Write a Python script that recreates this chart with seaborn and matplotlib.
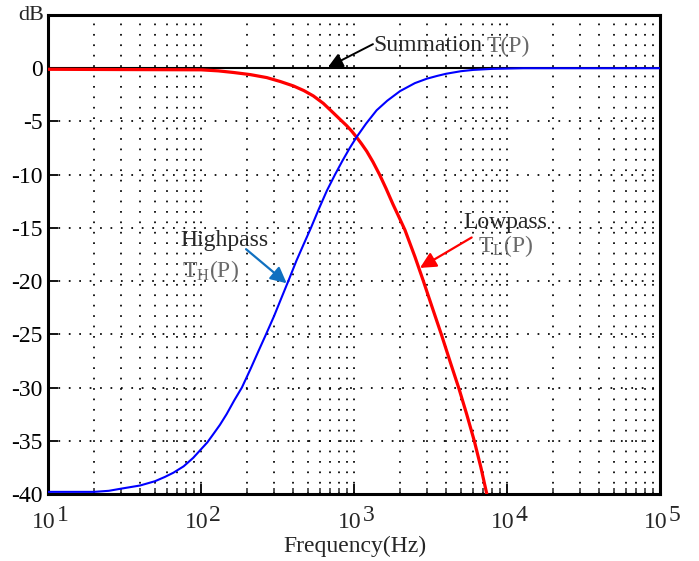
import numpy as np
import pandas as pd
import matplotlib
matplotlib.use("Agg")
import matplotlib.pyplot as plt
import matplotlib.transforms as mtransforms
from matplotlib.ticker import FixedLocator, NullFormatter
import seaborn as sns

# ---- data (frequency in Hz, magnitude in dB) ----
lowpass_freq = [10, 100, 130, 163, 210, 269, 330, 401, 470, 542, 630, 733, 810, 896,
                965, 1042, 1120, 1211, 1330, 1470, 1620, 1800, 1970, 2153, 2500,
                2826, 3250, 3741, 4300, 4853, 5450, 6109, 6750, 7430]
lowpass_db = [-0.1, -0.15, -0.25, -0.4, -0.6, -0.88, -1.25, -1.66, -2.1, -2.6, -3.3,
              -4.2, -4.8, -5.4, -5.9, -6.5, -7.1, -7.8, -8.8, -10.0, -11.3, -12.8,
              -14.0, -15.2, -17.7, -19.9, -22.5, -25.1, -27.8, -30.1, -32.5, -35.0,
              -37.5, -40.2]

highpass_freq = [10, 20, 25, 30, 40, 50, 58, 66, 77, 89, 100, 110, 120, 133, 147, 165,
                 185, 210, 237, 266, 300, 335, 372, 420, 470, 523, 590, 665, 751, 840,
                 942, 1042, 1200, 1406, 1650, 2000, 2500, 3000, 3500, 4000, 5000, 6000,
                 8000, 12800, 100000]
highpass_db = [-39.8, -39.8, -39.7, -39.5, -39.2, -38.8, -38.4, -38.0, -37.4, -36.6,
               -35.8, -35.15, -34.4, -33.5, -32.5, -31.2, -30.0, -28.3, -26.6, -25.0,
               -23.3, -21.6, -20.0, -18.1, -16.5, -15.0, -13.2, -11.5, -10.0, -8.7,
               -7.45, -6.45, -5.2, -3.95, -3.05, -2.15, -1.4, -0.98, -0.72, -0.52,
               -0.28, -0.16, -0.06, 0.0, 0.0]

sum_freq = [10, 100000]
sum_db = [0.0, 0.0]

y_ticks = [0, -5, -10, -15, -20, -25, -30, -35, -40]
y_tick_labels = ["0", "-5", "-10", "-15", "-20", "-25", "-30", "-35", "-40"]
decades = [10, 100, 1000, 10000, 100000]
decade_exponents = ["1", "2", "3", "4", "5"]

df_low = pd.DataFrame({"freq": lowpass_freq, "dB": lowpass_db})
df_high = pd.DataFrame({"freq": highpass_freq, "dB": highpass_db})
df_sum = pd.DataFrame({"freq": sum_freq, "dB": sum_db})

# ---- style ----
sns.set_style("ticks")
plt.rcParams["font.family"] = ["Liberation Serif", "DejaVu Serif"]
plt.rcParams["mathtext.fontset"] = "custom"
plt.rcParams["mathtext.rm"] = "Liberation Serif"
plt.rcParams["mathtext.it"] = "Liberation Serif:italic"
plt.rcParams["axes.unicode_minus"] = False

W, H = 699, 561
fig = plt.figure(figsize=(W / 100, H / 100), dpi=100)
ax = fig.add_axes([48 / W, 67 / H, 612 / W, 479 / H])

# ---- curves ----
sns.lineplot(data=df_sum, x="freq", y="dB", ax=ax, color="black", lw=1.5,
             estimator=None, sort=False, zorder=3)
sns.lineplot(data=df_low, x="freq", y="dB", ax=ax, color="#ff0000", lw=2.3,
             estimator=None, sort=False, zorder=4)
sns.lineplot(data=df_high, x="freq", y="dB", ax=ax, color="#0000ff", lw=1.5,
             estimator=None, sort=False, zorder=5)

ax.set_xscale("log")
ax.set_xlim(10, 1e5)
ax.set_ylim(-40, 5)

# ---- ticks and grid ----
ax.xaxis.set_major_locator(FixedLocator(decades))
minor = [m * d for d in decades[:-1] for m in range(2, 10)]
ax.xaxis.set_minor_locator(FixedLocator(minor))
ax.xaxis.set_major_formatter(NullFormatter())
ax.xaxis.set_minor_formatter(NullFormatter())
ax.set_yticks(y_ticks)
ax.set_yticklabels(y_tick_labels, fontsize=17)

ax.tick_params(axis="both", which="major", direction="in", length=7, width=1.3,
               top=False, right=False, pad=4, colors="black")
ax.tick_params(axis="x", which="minor", direction="in", length=4, width=1.1,
               top=False)

grid_kw = dict(color="black", lw=1.25, linestyle=(0, (1, 5)), alpha=1.0)
ax.grid(True, which="both", axis="x", **grid_kw)
ax.grid(True, which="major", axis="y", **grid_kw)
ax.set_axisbelow(True)

for sp in ax.spines.values():
    sp.set_linewidth(2.2)
    sp.set_color("black")
    sp.set_visible(True)

ax.set_xlabel("")
ax.set_ylabel("")

# decade labels: "10" with a full-size raised exponent
trans_y = mtransforms.blended_transform_factory(ax.transData, fig.transFigure)
for d, e in zip(decades, decade_exponents):
    t_base = trans_y + mtransforms.ScaledTranslation(8 / 100, 0, fig.dpi_scale_trans)
    ax.text(d, (H - 528) / H, "10", transform=t_base, ha="right", va="baseline",
            fontsize=17, clip_on=False)
    t_exp = trans_y + mtransforms.ScaledTranslation(8.5 / 100, 0, fig.dpi_scale_trans)
    ax.text(d, (H - 521) / H, e, transform=t_exp, ha="left", va="baseline",
            fontsize=17, clip_on=False)

fig.text(355 / W, (H - 546) / H, "Frequency(Hz)", ha="center", va="center",
         fontsize=17)
fig.text(44 / W, (H - 16) / H, "dB", ha="right", va="center", fontsize=16)

# ---- annotations ----
tp_color = "#6a6a6a"
ax.text(1330, 1.6, "Summation", fontsize=17, ha="left", va="baseline", zorder=6)
ax.text(7300, 1.5, "T(P)", fontsize=17, ha="left", va="baseline", color=tp_color,
        zorder=6)
ax.annotate("", xy=(676, 0.1), xytext=(1330, 2.26),
            arrowprops=dict(arrowstyle="-|>", color="black", lw=1.4,
                            mutation_scale=22, shrinkA=0, shrinkB=0), zorder=6)

ax.text(73.6, -16.7, "Highpass", fontsize=17, ha="left", va="baseline", zorder=6)
ax.text(75, -19.6, r"T$_{\mathregular{H}}$(P)", fontsize=17, ha="left",
        va="baseline", color=tp_color, zorder=6)
ax.annotate("", xy=(363, -20.2), xytext=(197, -17.0),
            arrowprops=dict(arrowstyle="-|>", color="#1070c0", lw=1.6,
                            mutation_scale=24, shrinkA=0, shrinkB=0), zorder=6)

ax.text(5175, -15.0, "Lowpass", fontsize=17, ha="left", va="baseline", zorder=6)
ax.text(6490, -17.3, r"T$_{\mathregular{L}}$(P)", fontsize=17, ha="left",
        va="baseline", color=tp_color, zorder=6)
ax.annotate("", xy=(2698, -18.76), xytext=(5875, -15.9),
            arrowprops=dict(arrowstyle="-|>", color="#ff0000", lw=1.6,
                            mutation_scale=24, shrinkA=0, shrinkB=0), zorder=6)

fig.savefig("out.png", dpi=100)
